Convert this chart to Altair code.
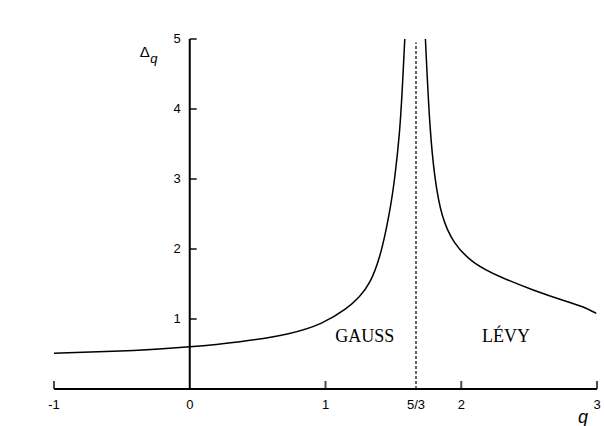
import altair as alt
import pandas as pd

# Delta_q on the Gaussian side (q < 5/3) and on the Levy side (q > 5/3)
q_gauss = [-1.0, -0.37, 0.0, 0.37, 0.74, 0.98, 1.16, 1.25, 1.33, 1.40, 1.45, 1.484, 1.51, 1.547, 1.565, 1.584]
d_gauss = [0.51, 0.55, 0.60, 0.67, 0.78, 0.93, 1.15, 1.31, 1.51, 1.87, 2.30, 2.66, 3.00, 3.66, 4.25, 5.0]
q_levy = [1.736, 1.768, 1.805, 1.854, 1.94, 2.087, 2.284, 2.53, 2.775, 2.897, 2.995]
d_levy = [5.0, 3.7, 2.99, 2.46, 2.08, 1.79, 1.60, 1.41, 1.25, 1.18, 1.08]

# axis ticks and labels
x_tick_marks = [-1, 1, 2, 3]
x_label_vals = [-1, 0, 1, 5 / 3, 2, 3]
x_label_text = ["-1", "0", "1", "5/3", "2", "3"]
y_tick_vals = [1, 2, 3, 4, 5]
y_label_text = ["1", "2", "3", "4", "5"]

# regime names
regime_q = [1.29, 2.33]
regime_d = [0.74, 0.74]
regime_text = ["GAUSS", "LÉVY"]

q_crit = 5 / 3

SANS = "Liberation Sans"
SERIF = "Liberation Serif"


def xq(field):
    return alt.X(field, type="quantitative", axis=None,
                 scale=alt.Scale(domain=[-1, 3], nice=False, zero=False))


def yq(field):
    return alt.Y(field, type="quantitative", axis=None,
                 scale=alt.Scale(domain=[0, 5], nice=False, zero=False))


gauss_df = pd.DataFrame({"q": q_gauss, "d": d_gauss})
levy_df = pd.DataFrame({"q": q_levy, "d": d_levy})


def branch(df):
    return alt.Chart(df).mark_line(
        color="black", strokeWidth=1.5, interpolate="basis"
    ).encode(x=xq("q"), y=yq("d"))


# axis lines
xaxis_line = alt.Chart(pd.DataFrame({"a": [-1], "b": [3], "y": [0]})).mark_rule(
    color="black", strokeWidth=2
).encode(x=xq("a"), x2=alt.X2("b"), y=yq("y"))

yaxis_line = alt.Chart(pd.DataFrame({"x": [0], "a": [0], "b": [5]})).mark_rule(
    color="black", strokeWidth=2
).encode(x=xq("x"), y=yq("a"), y2=alt.Y2("b"))

crit_line = alt.Chart(pd.DataFrame({"x": [q_crit], "a": [0], "b": [4.95]})).mark_rule(
    color="black", strokeWidth=1.2, strokeDash=[3, 2]
).encode(x=xq("x"), y=yq("a"), y2=alt.Y2("b"))

# inward ticks
x_ticks = alt.Chart(pd.DataFrame({"x": x_tick_marks, "y": [0] * len(x_tick_marks)})).mark_tick(
    orient="vertical", size=8, thickness=2, color="black", yOffset=-4
).encode(x=xq("x"), y=yq("y"))

y_ticks = alt.Chart(pd.DataFrame({"x": [0] * len(y_tick_vals), "y": y_tick_vals})).mark_tick(
    orient="horizontal", size=7, thickness=2, color="black", xOffset=3.5
).encode(x=xq("x"), y=yq("y"))

x_labels = alt.Chart(
    pd.DataFrame({"x": x_label_vals, "y": [0] * len(x_label_vals), "t": x_label_text})
).mark_text(font=SANS, fontSize=13, color="black", dy=16, baseline="middle", align="center").encode(
    x=xq("x"), y=yq("y"), text="t:N"
)

y_labels = alt.Chart(
    pd.DataFrame({"x": [0] * len(y_tick_vals), "y": y_tick_vals, "t": y_label_text})
).mark_text(font=SANS, fontSize=13, color="black", dx=-9, baseline="middle", align="right").encode(
    x=xq("x"), y=yq("y"), text="t:N"
)

regimes = alt.Chart(
    pd.DataFrame({"x": regime_q, "y": regime_d, "t": regime_text})
).mark_text(font=SERIF, fontSize=18, color="black", baseline="middle", align="center").encode(
    x=xq("x"), y=yq("y"), text="t:N"
)

# axis titles
titles_df = pd.DataFrame({"x": [3], "y": [0], "t": ["q"]})
q_title = alt.Chart(titles_df).mark_text(
    font=SANS, fontSize=18, fontStyle="italic", color="black",
    dx=-14, dy=29, baseline="middle", align="center"
).encode(x=xq("x"), y=yq("y"), text="t:N")

delta_df = pd.DataFrame({"x": [0], "y": [5], "t": ["Δ"], "s": ["q"]})
delta_title = alt.Chart(delta_df).mark_text(
    font=SANS, fontSize=15, color="black",
    dx=-45, dy=13, baseline="middle", align="center"
).encode(x=xq("x"), y=yq("y"), text="t:N")

delta_sub = alt.Chart(delta_df).mark_text(
    font=SANS, fontSize=13, fontStyle="italic", color="black",
    dx=-36, dy=20, baseline="middle", align="center"
).encode(x=xq("x"), y=yq("y"), text="s:N")

chart = alt.layer(
    crit_line, branch(gauss_df), branch(levy_df), xaxis_line, yaxis_line, x_ticks, y_ticks,
    x_labels, y_labels, regimes, q_title, delta_title, delta_sub
).properties(
    width=543, height=350,
    autosize=alt.AutoSizeParams(type="none"),
    padding={"left": 54, "top": 39, "right": 7, "bottom": 37},
    background="white",
).configure_view(strokeWidth=0)

chart.save("out.html", embed_options={"renderer": "svg", "actions": False})
